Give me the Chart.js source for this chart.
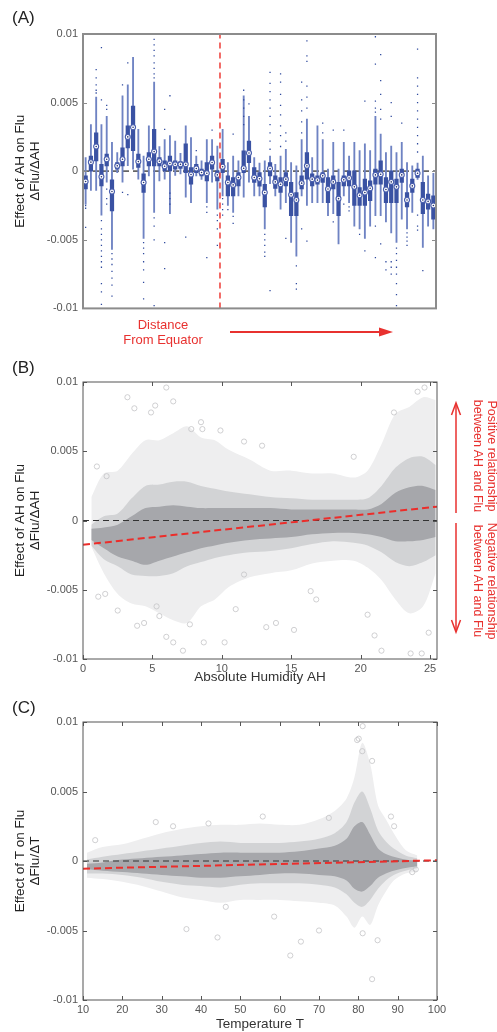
<!DOCTYPE html>
<html>
<head>
<meta charset="utf-8">
<script src="https://cdn.jsdelivr.net/npm/chart.js@4.4.1/dist/chart.umd.min.js"></script>
<style>
  body { margin: 0; background: #fff; font-family: "Liberation Sans", Arial, sans-serif; }
  #page { position: relative; width: 497px; height: 1032px; overflow: hidden; }
  canvas { position: absolute; left: 0; }
  .lbl { position: absolute; left: 12px; font-size: 17px; color: #222; line-height: 1; }
  .red { position: absolute; color: #e8312f; font-size: 13px; line-height: 15px; text-align: center; }
  .rot { position: absolute; width: 124px; height: 28px; color: #e8312f; font-size: 12.5px; line-height: 14px;
         text-align: center; white-space: nowrap; transform: rotate(90deg); }
  svg { position: absolute; left: 0; top: 0; pointer-events: none; }
</style>
</head>
<body>
<div id="page">
  <canvas id="chartA" width="497" height="320" style="top:0"></canvas>
  <canvas id="chartB" width="497" height="345" style="top:340px"></canvas>
  <canvas id="chartC" width="497" height="342" style="top:690px"></canvas>

  <div class="lbl" style="top:9px">(A)</div>
  <div class="lbl" style="top:359px">(B)</div>
  <div class="lbl" style="top:699px">(C)</div>

  <div class="red" style="left:100px; top:317px; width:126px">Distance<br>From Equator</div>
  <div class="rot" style="left:423px; top:442px">Positive relationship<br>between AH and Flu</div>
  <div class="rot" style="left:423px; top:567px">Negative relationship<br>between AH and Flu</div>

  <svg width="497" height="1032">
    <line x1="230" y1="332" x2="382" y2="332" stroke="#e8312f" stroke-width="2"/>
    <polygon points="379,327.5 393,332 379,336.5" fill="#e8312f"/>
    <line x1="456" y1="513" x2="456" y2="404" stroke="#e8312f" stroke-width="1.5"/>
    <polyline points="451.5,415 456,403 460.5,415" fill="none" stroke="#e8312f" stroke-width="1.5"/>
    <line x1="456" y1="523" x2="456" y2="631" stroke="#e8312f" stroke-width="1.5"/>
    <polyline points="451.5,620 456,632 460.5,620" fill="none" stroke="#e8312f" stroke-width="1.5"/>
  </svg>
</div>

<script>
// values in units of 0.001
const yTickValues = [-10, -5, 0, 5, 10];
const yTickLabels = ['-0.01', '-0.005', '0', '0.005', '0.01'];

// panel A: one box per location, ordered by distance from equator
const boxMed = [-0.75, 0.66, 1.8, -0.4, 0.87, -1.48, 0.39, 0.87, 2.5, 3.2,
  0.7, -0.82, 0.87, 1.43, 0.73, 0.36, 0.56, 0.5, 0.5, 0.5,
  -0.24, 0.2, -0.1, -0.15, 0.63, -0.27, 0.32, -0.82, -1.0, -0.46,
  0.22, 1.33, -0.46, -0.55, -1.55, 0.2, -0.78, -0.95, -0.58, -1.72,
  -2.1, -0.87, 0.39, -0.58, -0.65, -0.34, -1.3, -0.78, -2.0, -0.63,
  -0.5, -1.14, -1.75, -1.55, -1.24, -0.27, -0.22, -1.33, -0.78, -1.14,
  -0.27, -2.1, -1.07, -0.15, -2.1, -2.2, -2.5];
const boxQ1 = [-1.3, 0.0, 0.75, -1.07, 0.39, -2.9, 0.15, 0.39, 1.7, 1.5,
  0.27, -1.55, 0.39, 0.39, 0.39, 0.02, 0.02, 0.15, 0.2, -0.1,
  -0.95, -0.1, -0.34, -0.7, 0.15, -0.7, -0.1, -1.8, -1.8, -1.07,
  -0.1, 0.63, -0.82, -1.1, -2.6, -0.34, -1.26, -1.55, -1.07, -3.25,
  -3.25, -1.3, -0.58, -1.07, -0.95, -0.82, -2.3, -1.3, -3.25, -1.07,
  -1.07, -2.5, -2.5, -2.5, -2.15, -0.95, -0.95, -2.3, -2.3, -2.3,
  -0.82, -2.6, -1.55, -0.46, -3.1, -2.76, -3.5];
const boxQ3 = [-0.34, 1.1, 2.8, 0.5, 1.24, -0.63, 0.63, 1.7, 3.3, 4.75,
  1.24, -0.2, 1.36, 3.05, 1.0, 0.75, 1.1, 0.75, 0.7, 2.0,
  0.27, 0.5, 0.15, 0.63, 1.1, 0.02, 0.87, -0.34, -0.46, -0.1,
  1.48, 2.2, 0.27, -0.1, -0.95, 0.63, -0.34, -0.46, -0.1, -0.82,
  -1.55, -0.34, 1.36, -0.2, -0.34, -0.1, -0.46, -0.34, -0.82, -0.34,
  0.02, 0.02, -1.2, -0.58, -0.7, 0.15, 0.75, -0.46, 0.02, -0.58,
  0.15, -1.55, -0.58, 0.15, -0.82, -1.67, -1.8];
const boxLo = [-2.4, -1.4, -1.4, -3.2, -0.8, -5.7, -0.1, -0.8, 0.4, 0.15,
  -0.58, -4.9, -0.34, -3.0, -0.7, -0.58, -3.1, -0.3, -0.2, -1.9,
  -2.3, -0.34, -0.6, -2.3, -0.8, -2.76, -1.8, -2.5, -3.0, -1.8,
  -1.9, -0.8, -1.8, -1.8, -4.2, -0.9, -1.8, -2.76, -2.3, -5.2,
  -6.2, -1.8, -2.5, -2.3, -2.3, -2.3, -3.25, -3.1, -5.3, -1.8,
  -2.3, -4.0, -4.2, -4.9, -4.0, -3.25, -3.25, -3.7, -4.5, -5.2,
  -3.5, -4.2, -3.0, -0.6, -5.55, -4.0, -4.2];
const boxHi = [1.0, 3.4, 5.4, 3.4, 4.0, 2.1, 1.36, 5.5, 6.3, 8.3,
  3.05, 1.1, 3.3, 6.5, 1.8, 2.3, 2.6, 2.2, 1.3, 3.3,
  2.45, 1.1, 0.75, 2.3, 2.3, 1.84, 3.05, 0.63, 1.1, 0.75,
  5.5, 4.0, 1.0, 0.6, 0.75, 1.1, 0.5, 1.1, 1.6, 0.63,
  0.39, 2.3, 3.8, 1.0, 3.3, 2.3, 0.15, 2.1, 0.15, 2.1,
  1.1, 2.1, 1.5, 2.0, 1.5, 4.0, 2.7, 1.36, 1.84, 1.36,
  2.1, 0.63, 0.39, 0.6, 1.1, -0.34, -0.15];
const boxOut = [
  [-2.5, -2.7, -4.1], [], [7.4, 6.8, 6.3, 5.9, 5.7],
  [9.0, 5.2, -3.6, -4.2, -4.6, -5.0, -5.4, -5.8, -6.2, -6.6, -7.0, -8.2, -8.8, -9.7],
  [4.5, 4.8, -1.3, -2.0, -2.4], [-6.0, -6.4, -6.8, -7.3, -7.8, -8.3, -9.1], [], [6.3, -1.55], [7.9, -1.7], [],
  [], [-5.2, -5.6, -6.0, -6.6, -7.2, -8.1, -9.3], [],
  [9.6, 9.2, 8.8, 8.4, 7.9, 7.5, 7.1, 6.8, -3.4, -4.0, -5.0, -9.8],
  [], [4.5, 3.05, -5.2, -7.1], [5.5, -1.6, -2.0, -2.4], [], [], [-4.8],
  [], [1.5], [], [-2.6, -3.0, -6.3], [3.0], [-3.2, -3.6, -4.2, -5.4], [-2.0, -2.4, -2.8, -3.2], [-2.8], [-3.3, -3.8, 2.7], [],
  [5.9, 5.2, 4.6, 4.0, 3.4], [4.9], [], [], [-4.6, -5.0, -5.4, -5.9, -6.2],
  [1.6, 2.2, 2.8, 3.4, 4.0, 4.6, 5.2, 5.8, 6.4, 7.2, -8.7], [], [1.8, 2.6, 3.3, 4.1, 4.8, 5.6, 6.5, 7.1], [2.2, 2.8, -4.9], [],
  [-6.9, -8.2, -8.6], [2.8, 3.6, 4.4, 5.2, 6.5, -4.2], [9.5, 8.4, 8.0, 6.2, 5.4, 4.6, -5.1], [], [], [2.8, 3.5], [], [3.0, -3.7], [], [3.0, -2.4],
  [-2.6, -2.9], [], [-4.6], [5.1, -5.8], [], [9.8, 7.8, 5.1, 4.6, 4.3, -4.0, -6.3], [8.5, 6.6, 5.6, 4.5, 3.8, -5.3], [-6.6, -7.2],
  [4.0, 5.0, -6.6, -7.0, -7.5], [-5.6, -6.0, -6.5, -7.0, -7.5, -8.2, -9.0, -9.8],
  [3.5], [-4.5, -4.8, -5.1, -5.4], [], [8.9, 6.8, 6.2, 5.6, 5.0, 4.4, 3.8, 3.2, 2.6, 2.0, 1.4, -3.2, -4.0, -4.3],
  [-7.25], [], []
];
const equatorSplit = 26.5;

// panel B: absolute humidity cloud (envelopes of the point cloud)
const ahX = [0.6, 1.5, 2.5, 3.5, 4.5, 5.5, 6.5, 7.5, 8.5, 9.5, 10.5, 12, 13.5, 15, 16.5, 18, 19.5, 20.5, 21.5, 22.5, 23.5, 24.5, 25.4];
const ahHaloHi = [1.7, 3.4, 3.6, 4.8, 5.8, 5.8, 6.3, 6.8, 6.0, 5.8, 5.1, 4.4, 3.6, 3.6, 3.4, 3.4, 3.1, 3.6, 5.5, 7.7, 8.2, 8.9, 8.7];
const ahHaloLo = [-1.9, -3.8, -5.3, -6.0, -6.2, -6.7, -7.2, -7.4, -6.2, -5.7, -4.8, -4.1, -3.8, -3.6, -3.1, -2.9, -2.9, -3.4, -4.3, -5.7, -6.7, -6.2, -3.8];
const ahMidHi = [-0.3, 0.3, 0.5, 1.6, 2.5, 2.6, 2.8, 2.8, 2.5, 2.3, 2.1, 1.9, 1.7, 1.6, 1.5, 1.5, 1.5, 1.6, 2.5, 3.8, 4.5, 4.6, 4.0];
const ahMidLo = [-1.8, -2.8, -3.3, -3.9, -4.0, -4.0, -3.8, -3.3, -3.0, -2.7, -2.5, -2.3, -2.2, -2.0, -1.7, -1.5, -1.6, -1.8, -2.3, -3.0, -3.3, -3.0, -2.5];
const ahCoreHi = [-0.6, -0.5, -0.3, 0.3, 0.9, 1.0, 1.1, 1.0, 0.9, 0.9, 0.9, 0.9, 0.9, 0.8, 0.8, 0.8, 0.8, 0.8, 1.2, 2.0, 2.4, 2.5, 2.2];
const ahCoreLo = [-1.4, -2.0, -2.6, -2.9, -3.2, -2.9, -2.6, -2.3, -2.0, -1.8, -1.6, -1.4, -1.3, -1.2, -1.0, -0.9, -0.9, -1.0, -1.2, -1.5, -1.5, -1.4, -1.2];
const ahOutX = [3.2, 3.7, 4.9, 5.2, 6.0, 6.5, 8.5, 7.8, 8.6, 9.9, 1.0, 1.7, 2.5, 3.9, 4.4, 5.3, 5.5, 6.0, 6.5, 7.2, 7.7, 8.7, 10.2, 11.0, 1.6, 1.1,
  11.6, 12.9, 11.6, 13.2, 13.9, 15.2, 16.4, 16.8, 19.5, 20.5, 21.0, 21.5, 22.4, 23.6, 24.1, 24.6, 24.9, 24.4];
const ahOutY = [8.9, 8.1, 7.8, 8.3, 9.6, 8.6, 7.1, 6.6, 6.6, 6.5, 3.9, 3.2, -6.5, -7.6, -7.4, -6.2, -6.9, -8.4, -8.8, -9.4, -7.5, -8.8, -8.8, -6.4, -5.3, -5.5,
  5.7, 5.4, -3.9, -7.7, -7.4, -7.9, -5.1, -5.7, 4.6, -6.8, -8.3, -9.4, 7.8, -9.6, 9.3, 9.6, -8.1, -9.6];
const ahFitX = [0, 25.5];
const ahFitY = [-1.75, 1.0];
const ahTicks = [0, 5, 10, 15, 20, 25];

// panel C: temperature cloud
const tX = [11, 15, 20, 25, 30, 35, 40, 45, 50, 55, 60, 65, 70, 74, 77, 79, 81, 83, 85, 87, 89, 92, 95];
const tHaloHi = [0.6, 1.0, 1.2, 1.6, 2.0, 2.3, 2.5, 2.6, 2.6, 2.7, 2.6, 2.6, 3.0, 3.6, 4.5, 6.0, 8.5, 7.0, 4.0, 3.0, 2.0, 0.8, 0.4];
const tHaloLo = [-1.2, -1.3, -1.5, -1.8, -2.2, -2.6, -2.8, -3.0, -2.8, -2.8, -2.8, -2.9, -3.0, -3.2, -4.0, -4.8, -4.0, -4.6, -3.2, -2.2, -1.4, -0.9, -0.8];
const tMidHi = [0.1, 0.3, 0.5, 0.7, 0.9, 1.1, 1.3, 1.4, 1.3, 1.3, 1.3, 1.4, 1.6, 2.0, 2.8, 4.2, 5.0, 3.8, 2.2, 1.4, 0.9, 0.4, 0.2];
const tMidLo = [-0.9, -0.9, -1.0, -1.2, -1.5, -1.7, -1.8, -1.9, -1.7, -1.6, -1.6, -1.6, -1.7, -1.9, -2.4, -3.0, -3.3, -2.8, -2.0, -1.4, -1.0, -0.7, -0.5];
const tCoreHi = [-0.2, -0.1, 0.1, 0.2, 0.3, 0.4, 0.5, 0.6, 0.6, 0.6, 0.6, 0.7, 0.9, 1.1, 1.6, 2.5, 2.8, 1.9, 0.9, 0.5, 0.3, 0.1, 0.0];
const tCoreLo = [-0.6, -0.7, -0.8, -0.9, -1.0, -1.1, -1.2, -1.2, -1.1, -1.0, -0.9, -0.9, -1.0, -1.1, -1.4, -2.0, -2.2, -1.8, -1.2, -0.9, -0.7, -0.5, -0.4];
const tOutX = [28.5, 32.9, 41.9, 13.1, 36.3, 44.2, 46.3, 79.7, 80.1, 81.0, 81.1, 83.5, 89.1, 88.3, 55.7, 62.7, 65.4, 70.0, 83.5, 81.1, 84.9, 58.6, 93.7, 94.6, 72.5];
const tOutY = [2.8, 2.5, 2.7, 1.5, -4.9, -5.5, -3.3, 8.7, 8.8, 7.9, 9.7, 7.2, 2.5, 3.2, 3.2, -6.8, -5.8, -5.0, -8.5, -5.2, -5.7, -4.0, -0.8, -0.6, 3.1];
const tFitX = [10, 100];
const tFitY = [-0.55, 0.05];
const tTicks = [10, 20, 30, 40, 50, 60, 70, 80, 90, 100];

Chart.defaults.font.family = '"Liberation Sans", Arial, sans-serif';
Chart.defaults.animation = false;
Chart.defaults.plugins.legend.display = false;
Chart.defaults.plugins.tooltip.enabled = false;

const framePlugin = {
  id: 'frame',
  afterDatasetsDraw(chart, args, opts) {
    const { ctx, chartArea: a, scales } = chart;
    ctx.save();
    ctx.strokeStyle = opts.color;
    ctx.lineWidth = 1;
    ctx.beginPath();
    scales.y.ticks.forEach(t => {
      const y = Math.round(scales.y.getPixelForValue(t.value)) + 0.5;
      ctx.moveTo(a.left, y); ctx.lineTo(a.left + 4, y);
      ctx.moveTo(a.right, y); ctx.lineTo(a.right - 4, y);
    });
    if (opts.xTicks) {
      scales.x.ticks.forEach(t => {
        const x = Math.round(scales.x.getPixelForValue(t.value)) + 0.5;
        ctx.moveTo(x, a.bottom); ctx.lineTo(x, a.bottom - 4);
        ctx.moveTo(x, a.top); ctx.lineTo(x, a.top + 4);
      });
    }
    ctx.stroke();
    ctx.lineWidth = opts.width;
    ctx.strokeRect(a.left, a.top, a.right - a.left, a.bottom - a.top);
    ctx.restore();
  }
};

function yAxis(title) {
  return {
    type: 'linear',
    min: -10,
    max: 10,
    afterBuildTicks: s => { s.ticks = yTickValues.map(v => ({ value: v })); },
    afterFit: s => { s.width = 83; },
    grid: { display: false, drawTicks: false },
    border: { display: false },
    ticks: { color: '#555', font: { size: 11 }, padding: 5, callback: v => yTickLabels[yTickValues.indexOf(v)] },
    title: { display: true, text: title, color: '#222', font: { size: 13.5, lineHeight: 1.1 }, padding: { top: 12.6, bottom: 0 } },
  };
}

function xAxis(min, max, ticks, title, height, pad) {
  return {
    type: 'linear',
    min,
    max,
    afterBuildTicks: s => { s.ticks = ticks.map(v => ({ value: v })); },
    afterFit: s => { s.height = height; },
    grid: { display: false, drawTicks: false },
    border: { display: false },
    ticks: { color: '#555', font: { size: 11 }, padding: pad, maxRotation: 0 },
    title: { display: true, text: title, color: '#333', font: { size: 13.5, lineHeight: 1.1 }, padding: 0 },
  };
}

function pts(xs, ys) {
  return xs.map((x, i) => ({ x, y: ys[i] }));
}

function band(xs, hi, lo, color, order) {
  return [
    { type: 'line', data: pts(xs, hi), borderWidth: 0, pointRadius: 0, tension: 0.3, fill: '+1', backgroundColor: color, order },
    { type: 'line', data: pts(xs, lo), borderWidth: 0, pointRadius: 0, tension: 0.3, fill: false, order },
  ];
}

function cloudDatasets(xs, halo, mid, core, outX, outY, fitX, fitY, xMin, xMax) {
  return [
    ...band(xs, halo[0], halo[1], '#eeeeef', 9),
    ...band(xs, mid[0], mid[1], '#d2d3d5', 7),
    ...band(xs, core[0], core[1], '#a6a7ab', 5),
    { type: 'scatter', data: pts(outX, outY), pointRadius: 2.6, pointBorderWidth: 0.8,
      pointBackgroundColor: 'rgba(0,0,0,0)', pointBorderColor: '#c4c4c6', order: 4 },
    { type: 'line', data: [{ x: xMin, y: 0 }, { x: xMax, y: 0 }], borderColor: '#333', borderWidth: 1,
      borderDash: [6, 4], pointRadius: 0, fill: false, order: 2 },
    { type: 'line', data: pts(fitX, fitY), borderColor: '#ec2d2a', borderWidth: 2,
      borderDash: [7, 4], pointRadius: 0, fill: false, order: 1 },
  ];
}

// panel A
const boxIdx = boxMed.map((_, i) => i + 1);
new Chart(document.getElementById('chartA'), {
  type: 'bar',
  data: {
    datasets: [
      { type: 'line', data: [{ x: 0.5, y: 0 }, { x: 67.5, y: 0 }], borderColor: '#666', borderWidth: 1.8,
        borderDash: [6, 4], pointRadius: 0, order: 10 },
      { type: 'bar', data: boxIdx.map((x, i) => ({ x, y: [boxLo[i], boxHi[i]] })), backgroundColor: '#6f83c3',
        barThickness: 1.2, grouped: false, order: 8 },
      { type: 'bar', data: boxIdx.map((x, i) => ({ x, y: [boxQ1[i], boxQ3[i]] })), backgroundColor: '#3a52a3',
        barThickness: 3.6, grouped: false, order: 6 },
      { type: 'scatter', data: boxOut.flatMap((vals, i) => vals.map(v => ({ x: i + 1, y: v }))), pointStyle: 'rect',
        pointRadius: 0.9, pointBorderWidth: 0, pointBackgroundColor: '#2f4a9e', order: 5 },
      { type: 'scatter', data: pts(boxIdx, boxMed), pointRadius: 2.5, pointBorderWidth: 1.1,
        pointBackgroundColor: '#fff', pointBorderColor: '#4a5fae', order: 3 },
      { type: 'scatter', data: pts(boxIdx, boxMed), pointRadius: 0.8, pointBorderWidth: 0,
        pointBackgroundColor: '#22306e', order: 2 },
      { type: 'line', data: [{ x: equatorSplit, y: -10 }, { x: equatorSplit, y: 10 }], borderColor: '#ee3b36',
        borderWidth: 1.5, borderDash: [6, 4], pointRadius: 0, order: 1 },
    ],
  },
  options: {
    responsive: false,
    events: [],
    layout: { padding: { top: 34, right: 61, bottom: 11, left: 0 } },
    scales: {
      x: { type: 'linear', min: 0.5, max: 67.5, offset: false, display: false },
      y: yAxis(['Effect of AH on Flu', 'ΔFlu/ΔAH']),
    },
    plugins: { frame: { color: '#8c8c8c', width: 2, xTicks: false } },
  },
  plugins: [framePlugin],
});

// panel B
new Chart(document.getElementById('chartB'), {
  type: 'scatter',
  data: {
    datasets: cloudDatasets(ahX, [ahHaloHi, ahHaloLo], [ahMidHi, ahMidLo], [ahCoreHi, ahCoreLo],
      ahOutX, ahOutY, ahFitX, ahFitY, 0, 25.5),
  },
  options: {
    responsive: false,
    events: [],
    layout: { padding: { top: 42, right: 60, bottom: 0, left: 0 } },
    scales: {
      x: xAxis(0, 25.5, ahTicks, 'Absolute Humidity AH', 26, 3.5),
      y: yAxis(['Effect of AH on Flu', 'ΔFlu/ΔAH']),
    },
    plugins: { frame: { color: '#555', width: 1, xTicks: true } },
  },
  plugins: [framePlugin],
});

// panel C
new Chart(document.getElementById('chartC'), {
  type: 'scatter',
  data: {
    datasets: cloudDatasets(tX, [tHaloHi, tHaloLo], [tMidHi, tMidLo], [tCoreHi, tCoreLo],
      tOutX, tOutY, tFitX, tFitY, 10, 100),
  },
  options: {
    responsive: false,
    events: [],
    layout: { padding: { top: 32, right: 60, bottom: 0, left: 0 } },
    scales: {
      x: xAxis(10, 100, tTicks, 'Temperature T', 32, 3.5),
      y: yAxis(['Effect of T on Flu', 'ΔFlu/ΔT']),
    },
    plugins: { frame: { color: '#555', width: 1, xTicks: true } },
  },
  plugins: [framePlugin],
});
</script>
</body>
</html>
